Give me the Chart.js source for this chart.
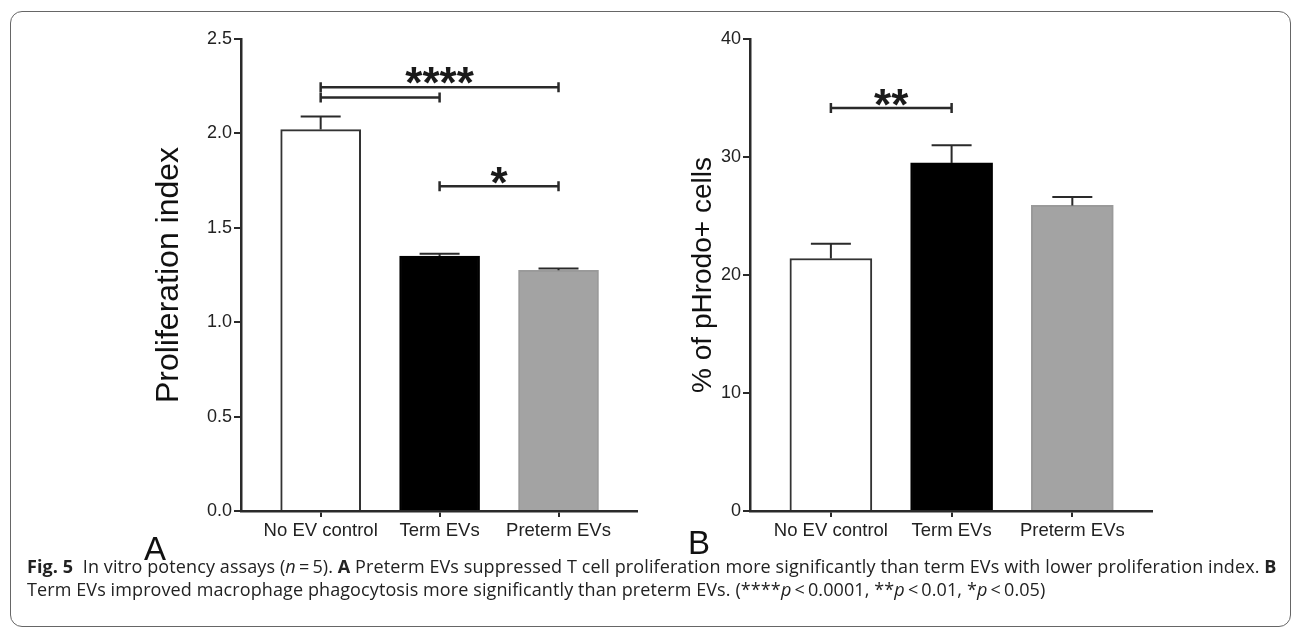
<!DOCTYPE html>
<html>
<head>
<meta charset="utf-8">
<script src="https://cdn.jsdelivr.net/npm/chart.js@4.4.1/dist/chart.umd.min.js"></script>
<style>
  body { margin: 0; background: #fff; width: 1293px; height: 628px; overflow: hidden; position: relative; font-family: "Liberation Sans", Arial, sans-serif; }
  .frame { position: absolute; left: 10px; top: 11px; width: 1281px; height: 616px; box-sizing: border-box; border: 1.5px solid #666; border-radius: 12px; }
  #wrapA { position: absolute; left: 100px; top: 20px; width: 560px; height: 540px; }
  #wrapB { position: absolute; left: 660px; top: 20px; width: 520px; height: 540px; }
  .panel { position: absolute; font-size: 33px; line-height: 33px; color: #111; }
  .caption { position: absolute; left: 27px; top: 555px; font-family: "Open Sans", sans-serif; font-size: 18px; letter-spacing: 0.1px; line-height: 23px; color: #222; white-space: nowrap; }
</style>
</head>
<body>
<div class="frame"></div>
<div id="wrapA"><canvas id="chartA" width="560" height="540"></canvas></div>
<div id="wrapB"><canvas id="chartB" width="520" height="540"></canvas></div>
<div class="panel" style="left:144px; top:532px;">A</div>
<div class="panel" style="left:688px; top:526px;">B</div>
<div class="caption"><b>Fig. 5</b>&nbsp; In vitro potency assays (<i>n</i>&thinsp;=&thinsp;5). <b>A</b> Preterm EVs suppressed T cell proliferation more significantly than term EVs with lower proliferation index. <b>B</b><br>Term EVs improved macrophage phagocytosis more significantly than preterm EVs. (****<i>p</i>&thinsp;&lt;&thinsp;0.0001, **<i>p</i>&thinsp;&lt;&thinsp;0.01, *<i>p</i>&thinsp;&lt;&thinsp;0.05)</div>

<script>
// groups
const groups = ['No EV control', 'Term EVs', 'Preterm EVs'];

// panel A - proliferation index
const prolifMean = [2.02, 1.35, 1.275];
const prolifSem = [0.07, 0.012, 0.01];
const prolifTicks = [0, 0.5, 1.0, 1.5, 2.0, 2.5];
const prolifTickLabels = ['0.0', '0.5', '1.0', '1.5', '2.0', '2.5'];
// [from group, to group, y]
const prolifBrackets = [[0, 2, 2.245], [0, 1, 2.19], [1, 2, 1.72]];
const prolifStars = [['****', 1, 2.293], ['*', 1.5, 1.764]];

// panel B - % of pHrodo+ cells
const phrodoMean = [21.4, 29.5, 25.9];
const phrodoSem = [1.25, 1.5, 0.7];
const phrodoTicks = [0, 10, 20, 30, 40];
const phrodoTickLabels = ['0', '10', '20', '30', '40'];
const phrodoBrackets = [[0, 1, 34.15]];
const phrodoStars = [['**', 0.5, 34.83]];

const fills = ['#ffffff', '#000000', '#a3a3a3'];
const edges = ['#333333', '#000000', '#9a9a9a'];
const ink = '#2a2a2a';

// error bars (upper whisker only) + significance brackets
function makeExtras(means, sem, brackets, stars) {
  return {
    id: 'extras',
    afterDatasetsDraw(chart) {
      const { ctx, scales: { x, y } } = chart;
      ctx.save();
      ctx.strokeStyle = ink;
      ctx.lineWidth = 2;
      means.forEach((m, i) => {
        const px = x.getPixelForValue(i);
        const top = y.getPixelForValue(m);
        const hi = y.getPixelForValue(m + sem[i]);
        ctx.beginPath();
        ctx.moveTo(px, top); ctx.lineTo(px, hi);
        ctx.moveTo(px - 20, hi); ctx.lineTo(px + 20, hi);
        ctx.stroke();
      });
      ctx.lineWidth = 2.5;
      brackets.forEach(([a, b, v]) => {
        const x1 = x.getPixelForValue(a), x2 = x.getPixelForValue(b), py = y.getPixelForValue(v);
        ctx.beginPath();
        ctx.moveTo(x1, py); ctx.lineTo(x2, py);
        ctx.moveTo(x1, py - 5); ctx.lineTo(x1, py + 5);
        ctx.moveTo(x2, py - 5); ctx.lineTo(x2, py + 5);
        ctx.stroke();
      });
      const size = 44;
      ctx.fillStyle = '#1a1a1a';
      ctx.font = 'bold ' + size + 'px "Liberation Sans"';
      ctx.textAlign = 'center';
      ctx.textBaseline = 'alphabetic';
      stars.forEach(([t, a, v]) => {
        ctx.fillText(t, x.getPixelForValue(a), y.getPixelForValue(v) + 0.45 * size);
      });
      ctx.restore();
    }
  };
}

function makeChart(id, o) {
  return new Chart(document.getElementById(id), {
    type: 'bar',
    data: {
      datasets: [{
        data: o.means.map((v, i) => ({ x: i, y: v })),
        backgroundColor: fills,
        borderColor: edges,
        borderWidth: 2,
        barThickness: o.barWidth
      }]
    },
    options: {
      responsive: false,
      animation: false,
      devicePixelRatio: 1,
      layout: { padding: { left: 0, right: o.padRight, top: 19, bottom: 0 } },
      plugins: { legend: { display: false }, tooltip: { enabled: false } },
      scales: {
        x: {
          type: 'linear',
          min: -0.67,
          max: 2.66,
          offset: false,
          afterBuildTicks: s => { s.ticks = groups.map((_, i) => ({ value: i })); },
          afterFit: s => { s.height = 49; },
          ticks: {
            callback: v => groups[v],
            color: '#222',
            font: { family: 'Liberation Sans', size: 18.5 },
            padding: 3,
            maxRotation: 0,
            autoSkip: false
          },
          grid: { display: true, offset: false, drawOnChartArea: false, drawTicks: true, tickLength: 6, color: ink, lineWidth: 2 },
          border: { display: true, color: ink, width: 2.5 }
        },
        y: {
          min: o.ticks[0],
          max: o.ticks[o.ticks.length - 1],
          afterBuildTicks: s => { s.ticks = o.ticks.map(v => ({ value: v })); },
          afterFit: s => { s.width = o.axisWidth; },
          ticks: {
            callback: (v, i) => o.tickLabels[i],
            color: '#222',
            font: { family: 'Liberation Sans', size: 18 },
            padding: 2
          },
          title: {
            display: true,
            text: o.title,
            color: '#111',
            font: { family: 'Liberation Sans', size: o.titleSize },
            padding: { top: o.titlePad, bottom: 0 }
          },
          grid: { display: true, drawOnChartArea: false, drawTicks: true, tickLength: 7, color: ink, lineWidth: 2 },
          border: { display: true, color: ink, width: 2.5 }
        }
      }
    },
    plugins: [makeExtras(o.means, o.sem, o.brackets, o.stars)]
  });
}

makeChart('chartA', {
  means: prolifMean, sem: prolifSem, brackets: prolifBrackets, stars: prolifStars,
  ticks: prolifTicks, tickLabels: prolifTickLabels,
  title: 'Proliferation index', titleSize: 32, titlePad: 50,
  axisWidth: 141, padRight: 23, barWidth: 80
});

makeChart('chartB', {
  means: phrodoMean, sem: phrodoSem, brackets: phrodoBrackets, stars: phrodoStars,
  ticks: phrodoTicks, tickLabels: phrodoTickLabels,
  title: '% of pHrodo+ cells', titleSize: 28, titlePad: 26,
  axisWidth: 90, padRight: 28, barWidth: 82
});
</script>
</body>
</html>
